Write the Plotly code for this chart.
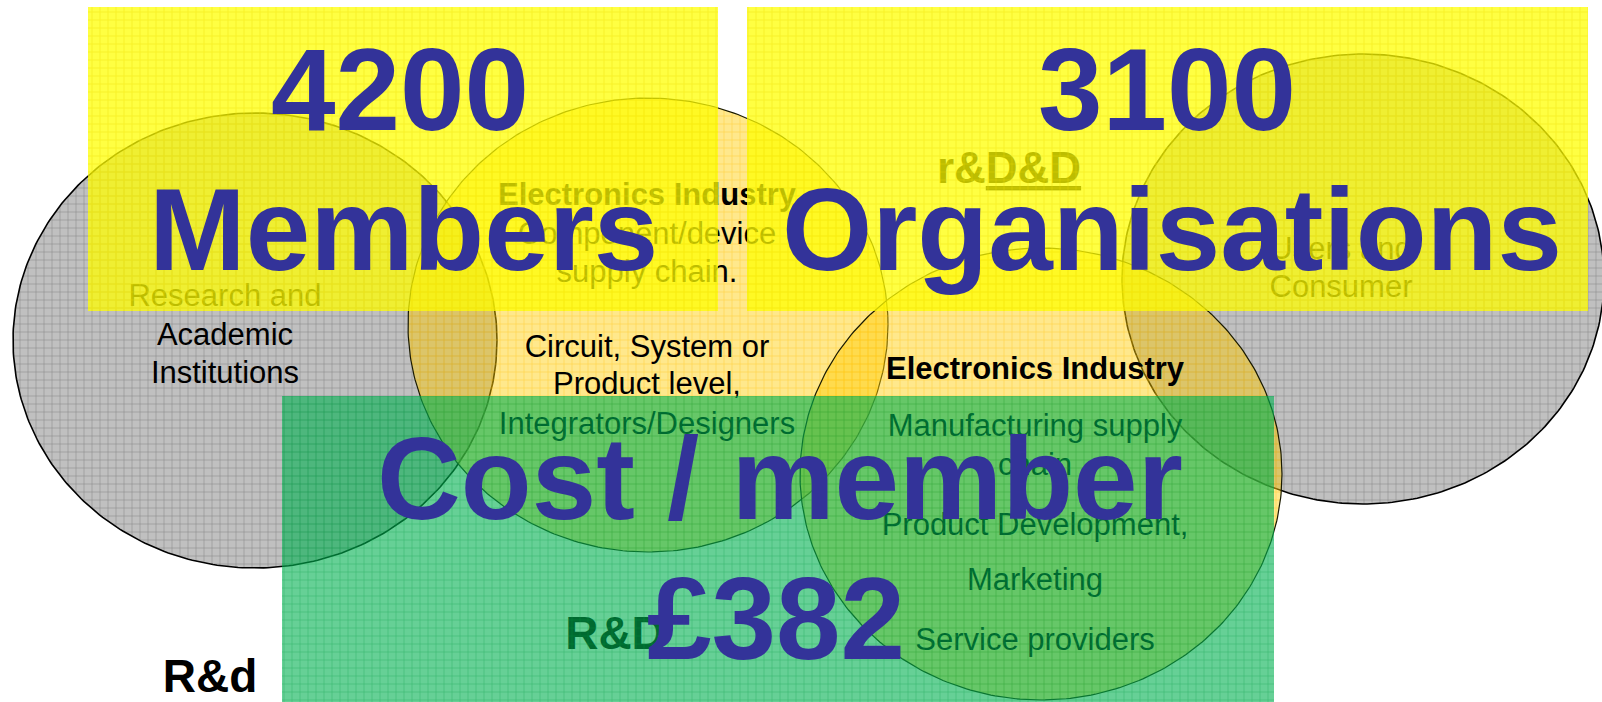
import numpy as np
import plotly.graph_objects as go

# ---------------- data (text content of the diagram) ----------------
headline_values = ["4200", "3100", "£382"]
headline_labels = ["Members", "Organisations", "Cost / member"]

research_lines = ["Research and", "Academic", "Institutions"]
component_lines = ["<b>Electronics Industry</b>", "Component/device", "supply chain.",
                   "Circuit, System or", "Product level,", "Integrators/Designers"]
users_lines = ["<b>r&amp;<u>D&amp;D</u></b>", "Users and", "Consumer"]
manufacturing_lines = ["<b>Electronics Industry</b>", "Manufacturing supply", "chain",
                       "Product Development,", "Marketing", "Service providers"]
stage_labels = ["<b>R&amp;D</b>", "<b>R&amp;d</b>"]

# ---------------- layout / geometry (page pixels) ----------------
W, H = 1602, 702
FONT = "Liberation Sans, Arial, sans-serif"
BLUE = "#333399"

# ellipses: (cx, cy, rx, ry)
ell_research = (255, 340.5, 242, 227.5)
ell_users = (1363, 279, 241, 225)
ell_component = (648, 325, 240, 227)
ell_manuf = (1041, 474, 241, 226)

# rectangles: (x0, y0, x1, y1)
rect_members = (88, 7, 718, 311)
rect_orgs = (747, 7, 1588, 311)
rect_cost = (282, 396, 1274, 706)

# text placement: x centre and baselines, font size
research_pos = (225, [306, 345, 383], 31)
component_pos = (647, [205, 244, 282, 357, 394, 434], 31)
users_pos = ([1009, 1341, 1341], [183, 259, 297], [44, 31, 31])
manuf_pos = (1035, [379, 436, 475, 535, 590, 650], 31)
stage_pos = ([615, 210], [649, 692], 46)

headline_pos = [(400, 89.5), (1167, 89.5), (776, 618.5)]
label_pos = [(403, 229.5), (1172, 230), (780, 478.5)]
BIG = 116


def ellipse_xy(e, n=361):
    cx, cy, rx, ry = e
    t = np.linspace(0, 2 * np.pi, n)
    return cx + rx * np.cos(t), cy + ry * np.sin(t)


def rect_xy(r):
    x0, y0, x1, y1 = r
    return [x0, x1, x1, x0, x0], [y0, y0, y1, y1, y0]


def patterned(xs, ys, bg, fg, fgop, line_color, line_width):
    return go.Scatter(
        x=xs, y=ys, mode="lines", fill="toself",
        fillcolor=bg,
        fillpattern=dict(shape="+", size=8, solidity=0.12,
                         bgcolor=bg, fgcolor=fg, fgopacity=fgop),
        line=dict(color=line_color, width=line_width),
        hoverinfo="skip", showlegend=False)


def text_trace(xs, baselines, texts, sizes, color="black"):
    if not isinstance(xs, (list, tuple)):
        xs = [xs] * len(texts)
    if not isinstance(sizes, (list, tuple)):
        sizes = [sizes] * len(texts)
    ys = [b - 0.25 * s for b, s in zip(baselines, sizes)]
    return go.Scatter(
        x=xs, y=ys, mode="text", text=texts, textposition="middle center",
        textfont=dict(family=FONT, size=sizes, color=color),
        hoverinfo="skip", showlegend=False, cliponaxis=False)


fig = go.Figure()

# circles
GRAY_BG = "rgb(192,192,192)"
GRAY_FG = "rgb(125,125,125)"
YEL_BG = "rgba(255,204,0,0.45)"
YEL_FG = "rgb(255,185,0)"

for e in (ell_research, ell_users):
    x, y = ellipse_xy(e)
    fig.add_trace(patterned(x, y, GRAY_BG, GRAY_FG, 0.9, "black", 1.6))
for e in (ell_component, ell_manuf):
    x, y = ellipse_xy(e)
    fig.add_trace(patterned(x, y, YEL_BG, YEL_FG, 0.6, "#1a1a00", 1.2))

# texts inside circles (drawn beneath the translucent rectangles)
fig.add_trace(text_trace(research_pos[0], research_pos[1], research_lines, research_pos[2]))
fig.add_trace(text_trace(component_pos[0], component_pos[1], component_lines, component_pos[2]))
fig.add_trace(text_trace(users_pos[0], users_pos[1], users_lines, users_pos[2]))
fig.add_trace(text_trace(manuf_pos[0], manuf_pos[1], manufacturing_lines, manuf_pos[2]))
fig.add_trace(text_trace(stage_pos[0], stage_pos[1], stage_labels, stage_pos[2]))

# translucent highlight rectangles
for r in (rect_members, rect_orgs):
    x, y = rect_xy(r)
    fig.add_trace(patterned(x, y, "rgba(255,255,0,0.74)", "rgb(235,220,0)", 0.7,
                            "rgba(0,0,0,0)", 0))
x, y = rect_xy(rect_cost)
fig.add_trace(patterned(x, y, "rgba(0,176,80,0.6)", "rgb(0,150,60)", 0.5,
                        "rgba(0,0,0,0)", 0))

# headline figures on top
annotations = []
for val, (px, py) in zip(headline_values, headline_pos):
    annotations.append(dict(x=px, y=py, text=val, showarrow=False,
                            xanchor="center", yanchor="middle",
                            font=dict(family=FONT, size=BIG, color=BLUE, weight="bold")))
for lab, (px, py) in zip(headline_labels, label_pos):
    annotations.append(dict(x=px, y=py, text=lab, showarrow=False,
                            xanchor="center", yanchor="middle",
                            font=dict(family=FONT, size=BIG, color=BLUE, weight="bold")))

fig.update_layout(
    width=W, height=H, margin=dict(l=0, r=0, t=0, b=0),
    paper_bgcolor="white", plot_bgcolor="white",
    showlegend=False, annotations=annotations,
    xaxis=dict(range=[0, W], visible=False, fixedrange=True),
    yaxis=dict(range=[H, 0], visible=False, fixedrange=True),
    font=dict(family=FONT),
)

fig.write_html("out.html", config={"displayModeBar": False},
               post_script="document.body.style.margin='0';document.body.style.overflow='hidden';")
